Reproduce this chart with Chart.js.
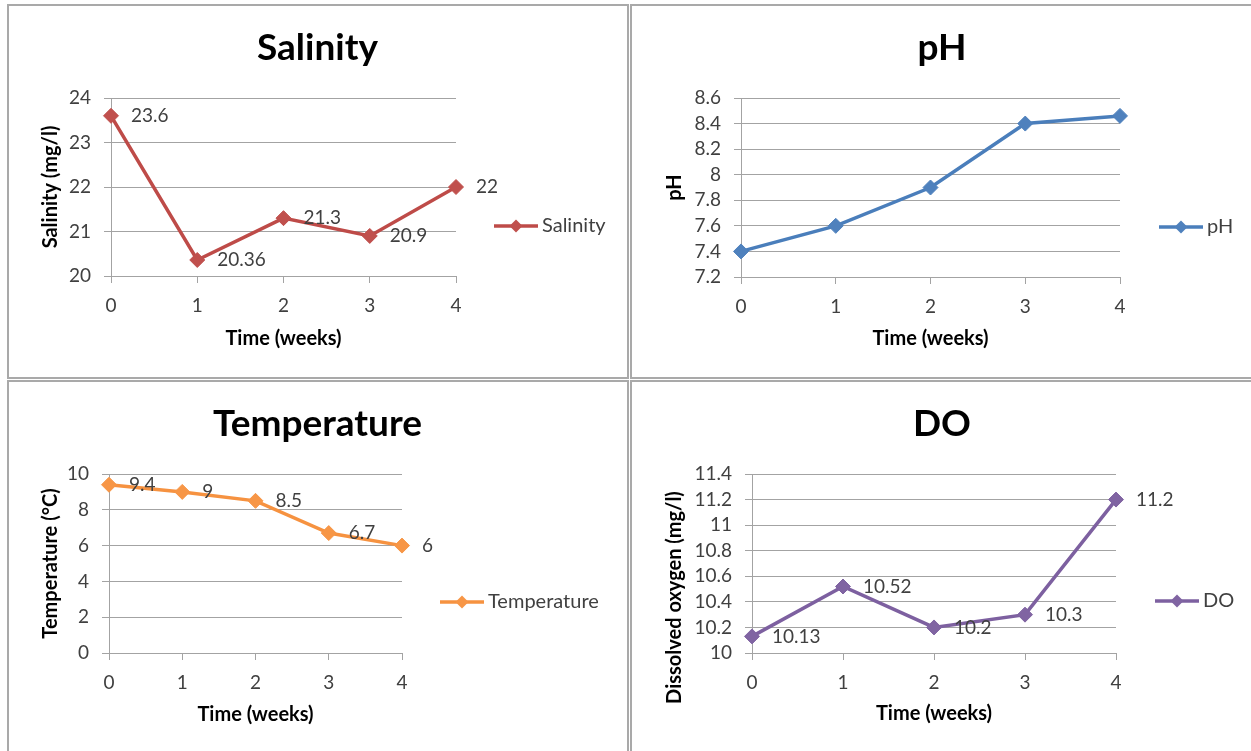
<!DOCTYPE html>
<html>
<head>
<meta charset="utf-8">
<script src="https://cdn.jsdelivr.net/npm/chart.js@4"></script>
<style>
  html, body { margin: 0; padding: 0; background: #ffffff; }
  body { width: 1251px; height: 751px; position: relative; overflow: hidden; }
  .panel { position: absolute; border: 2px solid #a9a9a9; background: #fff; box-sizing: border-box; }
  canvas { position: absolute; }
</style>
</head>
<body>
<div class="panel" style="left:7px;top:4px;width:622px;height:375px;"></div>
<div class="panel" style="left:630px;top:4px;width:640px;height:375px;"></div>
<div class="panel" style="left:7px;top:380px;width:622px;height:400px;"></div>
<div class="panel" style="left:630px;top:380px;width:640px;height:400px;"></div>
<canvas id="c1" width="617" height="371" style="left:9px;top:6px;"></canvas>
<canvas id="c2" width="618" height="371" style="left:633px;top:6px;"></canvas>
<canvas id="c3" width="617" height="368" style="left:9px;top:383px;"></canvas>
<canvas id="c4" width="618" height="368" style="left:633px;top:383px;"></canvas>
<script>
// ---- Data ----
const weeks = ['0', '1', '2', '3', '4'];
const salinity = [23.6, 20.36, 21.3, 20.9, 22];
const ph = [7.4, 7.6, 7.9, 8.4, 8.46];
const temperature = [9.4, 9, 8.5, 6.7, 6];
const dissolvedOxygen = [10.13, 10.52, 10.2, 10.3, 11.2];

const salinityTicks = [20, 21, 22, 23, 24];
const phTicks = [7.2, 7.4, 7.6, 7.8, 8, 8.2, 8.4, 8.6];
const temperatureTicks = [0, 2, 4, 6, 8, 10];
const doTicks = [10, 10.2, 10.4, 10.6, 10.8, 11, 11.2, 11.4];

// ---- Styles ----
const FONT = 'Lato, "Open Sans", sans-serif';
const gridColor = '#a3a3a3';
const tickColor = '#404040';
const TXT = 19;      // tick / value label size
const LEG = 20;      // legend text size
const AXT = 20;      // axis title size
const TTL = 37;      // chart title size

// value labels to the right of points
const valueLabels = {
  id: 'valueLabels',
  afterDatasetsDraw(chart, args, opts) {
    if (!opts || !opts.display) return;
    const ctx = chart.ctx;
    const ds = chart.data.datasets[0];
    const meta = chart.getDatasetMeta(0);
    ctx.save();
    ctx.font = opts.size + 'px ' + FONT;
    ctx.fillStyle = tickColor;
    ctx.textAlign = 'left';
    ctx.textBaseline = 'middle';
    meta.data.forEach((pt, i) => {
      ctx.fillText(String(ds.data[i]), pt.x + opts.dx, pt.y + (opts.dy || 0));
    });
    ctx.restore();
  }
};

// Excel style side legend: line with diamond, then series name
const sideLegend = {
  id: 'sideLegend',
  afterDraw(chart, args, opts) {
    if (!opts || opts.x == null) return;
    const ctx = chart.ctx;
    const ds = chart.data.datasets[0];
    const x = opts.x, y = opts.y, len = opts.lineLength;
    ctx.save();
    ctx.strokeStyle = ds.borderColor;
    ctx.lineWidth = ds.borderWidth;
    ctx.beginPath();
    ctx.moveTo(x, y);
    ctx.lineTo(x + len, y);
    ctx.stroke();
    const cx = x + len / 2, r = opts.markerRadius;
    ctx.fillStyle = ds.pointBackgroundColor;
    ctx.beginPath();
    ctx.moveTo(cx, y - r);
    ctx.lineTo(cx + r, y);
    ctx.lineTo(cx, y + r);
    ctx.lineTo(cx - r, y);
    ctx.closePath();
    ctx.fill();
    ctx.font = opts.size + 'px ' + FONT;
    ctx.fillStyle = tickColor;
    ctx.textAlign = 'left';
    ctx.textBaseline = 'middle';
    ctx.fillText(ds.label, x + len + opts.gap, y);
    ctx.restore();
  }
};

function makeChart(id, cfg) {
  const canvas = document.getElementById(id);
  const W = canvas.width, H = canvas.height;
  const area = cfg.area; // {l, r, t, b} in canvas coords
  return new Chart(canvas, {
    type: 'line',
    data: {
      labels: weeks,
      datasets: [{
        label: cfg.label,
        data: cfg.data,
        borderColor: cfg.lineColor,
        borderWidth: 3.5,
        pointStyle: 'rectRot',
        pointRadius: 7.5,
        pointBackgroundColor: cfg.markerColor,
        pointBorderColor: cfg.markerColor,
        pointBorderWidth: 1,
        tension: 0,
        clip: false,
        yAxisID: 'y'
      }]
    },
    plugins: [valueLabels, sideLegend],
    options: {
      responsive: false,
      maintainAspectRatio: false,
      animation: false,
      events: [],
      layout: { padding: 0 },
      plugins: {
        legend: { display: false },
        tooltip: { enabled: false },
        title: {
          display: true,
          text: cfg.title,
          color: '#000',
          font: { family: FONT, size: TTL, weight: 'bold', lineHeight: 1.2 },
          padding: { top: cfg.titleTop, bottom: area.t - cfg.titleTop - TTL * 1.2 }
        },
        valueLabels: { display: cfg.showValues, dx: 20, size: TXT },
        sideLegend: Object.assign({ lineLength: 44, gap: 4, size: LEG, markerRadius: 6.5 }, cfg.legend)
      },
      scales: {
        x: {
          type: 'category',
          offset: false,
          afterFit: s => { s.height = H - area.b; },
          grid: { drawOnChartArea: false, drawTicks: true, tickLength: 7, color: gridColor },
          border: { color: gridColor, width: 1 },
          ticks: { color: tickColor, padding: 11, font: { family: FONT, size: TXT } },
          title: {
            display: true, text: 'Time (weeks)', color: '#000',
            font: { family: FONT, size: AXT, weight: 'bold', lineHeight: 1.2 },
            padding: { top: 0, bottom: cfg.xTitleBottom }
          }
        },
        y: {
          type: 'linear',
          position: 'left',
          min: cfg.ticks[0],
          max: cfg.ticks[cfg.ticks.length - 1],
          afterBuildTicks: s => { s.ticks = cfg.ticks.map(v => ({ value: v })); },
          afterFit: s => { s.width = area.l; },
          grid: { color: gridColor, tickLength: 7, drawTicks: true },
          border: { color: gridColor, width: 1 },
          ticks: { color: tickColor, padding: 13, autoSkip: false, font: { family: FONT, size: TXT },
                   callback: v => String(v) },
          title: {
            display: true, text: cfg.yTitle, color: '#000',
            font: { family: FONT, size: AXT, weight: 'bold', lineHeight: 1.2 },
            padding: { top: 30, bottom: 0 }
          }
        },
        // empty right-hand axis that reserves the legend's room beside the plot
        legendRoom: {
          type: 'linear',
          position: 'right',
          display: true,
          afterFit: s => { s.width = W - area.r; },
          grid: { display: false },
          border: { display: false },
          ticks: { display: false },
          title: { display: false }
        }
      }
    }
  });
}

makeChart('c1', {
  title: 'Salinity', label: 'Salinity', data: salinity, ticks: salinityTicks,
  yTitle: 'Salinity (mg/l)', lineColor: '#be4b48', markerColor: '#c0504d',
  area: { l: 102, r: 447, t: 92, b: 270 }, titleTop: 20, xTitleBottom: 26,
  showValues: true, legend: { x: 485, y: 220 }
});
makeChart('c2', {
  title: 'pH', label: 'pH', data: ph, ticks: phTicks,
  yTitle: 'pH', lineColor: '#4a7ebb', markerColor: '#4f81bd',
  area: { l: 108, r: 487, t: 92, b: 271 }, titleTop: 20, xTitleBottom: 26,
  showValues: false, legend: { x: 526, y: 221 }
});
makeChart('c3', {
  title: 'Temperature', label: 'Temperature', data: temperature, ticks: temperatureTicks,
  yTitle: 'Temperature (°C)', lineColor: '#f69240', markerColor: '#f79646',
  area: { l: 100, r: 393, t: 91, b: 270 }, titleTop: 19, xTitleBottom: 24,
  showValues: true, legend: { x: 431, y: 219 }
});
makeChart('c4', {
  title: 'DO', label: 'DO', data: dissolvedOxygen, ticks: doTicks,
  yTitle: 'Dissolved oxygen (mg/l)' + ' '.repeat(14), lineColor: '#7d60a0', markerColor: '#8064a2',
  area: { l: 119, r: 483, t: 91, b: 270 }, titleTop: 19, xTitleBottom: 25,
  showValues: true, legend: { x: 522, y: 218 }
});
</script>
</body>
</html>
